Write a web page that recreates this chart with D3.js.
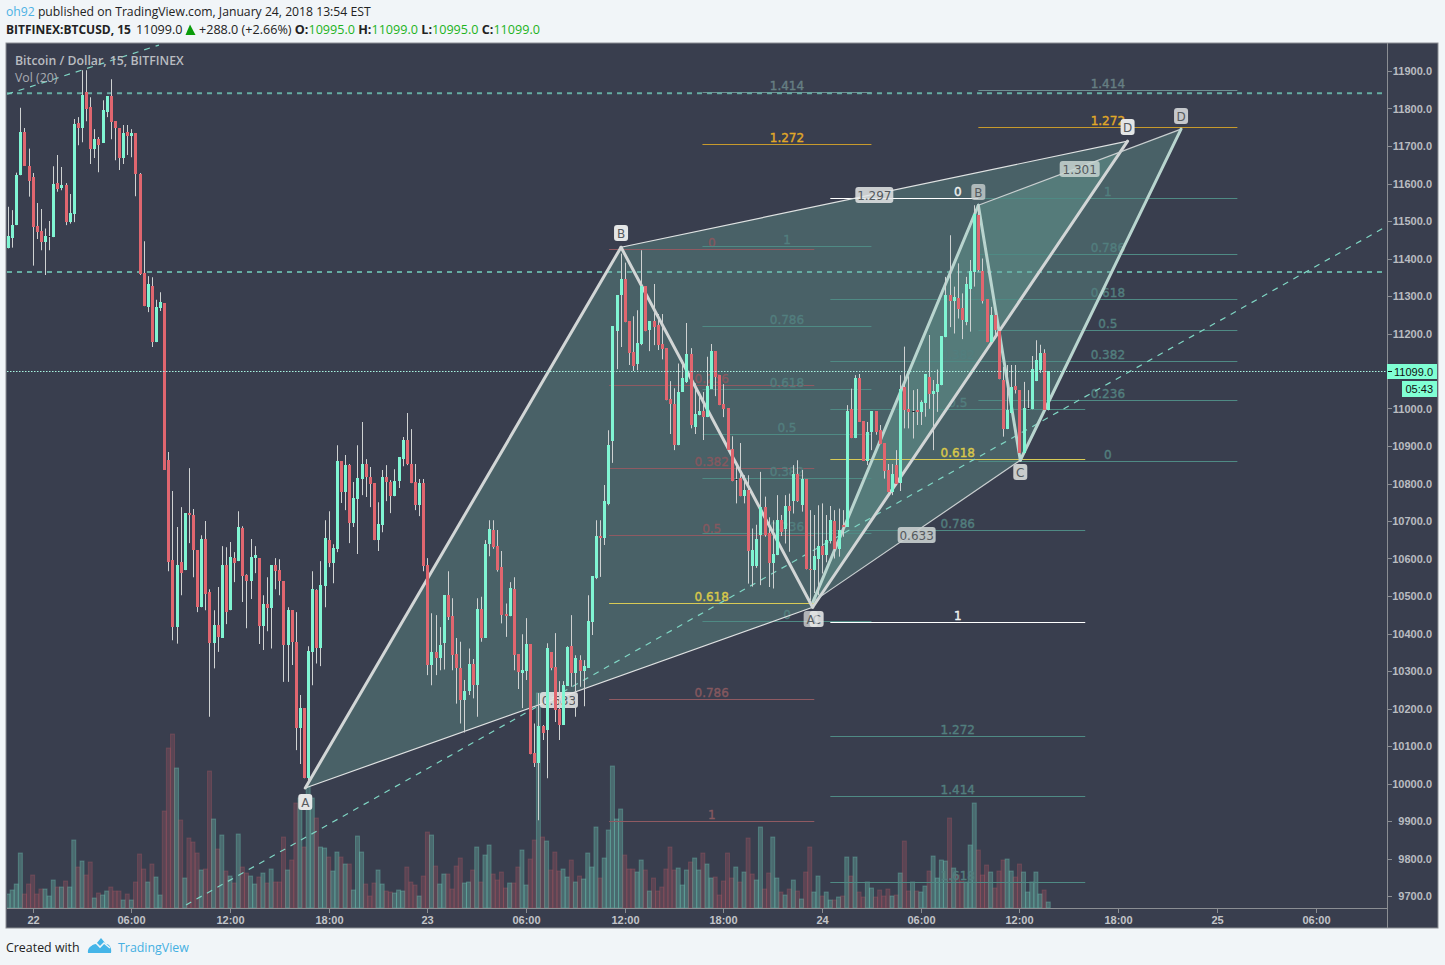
<!DOCTYPE html>
<html><head><meta charset="utf-8"><title>BTCUSD</title>
<script src="https://cdn.jsdelivr.net/npm/d3@7/dist/d3.min.js"></script>
<style>html,body{margin:0;padding:0;background:#f1f5f8;overflow:hidden}svg{display:block}</style>
</head><body><svg id="c" width="1445" height="965"></svg>
<script>
const opens=[11429,11454,11489,11622,11737,11646,11617,11486,11473,11444,
11459,11457,11601,11588,11596,11497,11518,11761,11748,11844,
11804,11692,11718,11708,11790,11833,11766,11748,11668,11737,
11726,11734,11625,11361,11270,11326,11177,11268,11281,10862,
10596,10417,10590,10569,10721,10716,10622,10470,10652,10510,
10375,10422,10388,10582,10462,10601,10593,10681,10556,10540,
10601,10601,10420,10478,10468,10582,10569,10540,10369,10462,
10378,10148,10201,10014,10350,10516,10361,10526,10649,10588,
10625,10860,10777,10849,10694,10758,10812,10852,10817,10801,
10649,10689,10817,10804,10766,10806,10865,10916,10852,10804,
10742,10801,10582,10316,10350,10334,10375,10502,10446,10345,
10307,10222,10246,10318,10262,10465,10388,10638,10676,10633,
10577,10452,10446,10518,10345,10294,10300,10372,10081,10054,
10153,10142,10350,10310,10198,10156,10260,10366,10294,10329,
10300,10308,10430,10548,10660,10654,10745,10913,11206,11302,
11345,11233,11150,11118,11172,11326,11209,11233,11222,11172,
11161,11025,11012,10902,11044,11070,11145,10950,10982,10993,
10977,11052,11153,11089,11012,11001,10892,10811,10814,10766,
10782,10580,10580,10662,10738,10667,10587,10609,10702,10678,
10741,10753,10825,10742,10812,10573,10569,10598,10633,10609,
10646,10700,10625,10689,10684,10998,10921,11081,10966,10860,
10937,10993,10942,10908,10836,10777,10849,10801,11057,10998,
10994,10997,10990,11014,11084,11038,11044,11062,11190,11302,
11286,11296,11268,11230,11318,11364,11516,11366,11292,11177,
11249,11206,11076,10945,10988,11060,11049,10881,11000,10998,
11073,11102,11148,10995];
const highs=[11538,11529,11629,11802,11748,11693,11628,11548,11532,11480,
11500,11646,11676,11644,11601,11572,11772,11777,11902,11902,
11830,11745,11724,11822,11833,11878,11766,11748,11756,11756,
11745,11734,11628,11446,11353,11350,11290,11310,11281,10884,
10780,10684,10737,10721,10841,10732,10622,10662,10700,10518,
10462,10524,10633,10630,10644,10617,10726,10686,10558,10652,
10633,10601,10502,10550,10582,10601,10598,10540,10470,10462,
10457,10236,10201,10366,10566,10518,10593,10702,10726,10638,
10902,10860,10876,10852,10804,10902,10964,10865,10844,10801,
10750,10836,10849,10809,10838,10870,10924,10988,10945,10852,
10812,10812,10601,10454,10449,10417,10502,10566,10494,10388,
10378,10276,10360,10332,10494,10498,10649,10702,10702,10676,
10620,10480,10537,10550,10345,10398,10441,10372,10160,10241,
10156,10374,10350,10401,10273,10273,10366,10449,10342,10342,
10329,10502,10553,10702,10702,10796,10942,11220,11302,11413,
11389,11233,11246,11262,11422,11326,11233,11332,11252,11252,
11161,11073,11054,11120,11129,11228,11161,11067,11044,11044,
11138,11172,11153,11089,11065,11001,10926,10846,10908,10822,
10822,10680,10690,10831,10765,10710,10702,10769,10716,10769,
10773,10849,10862,10836,10812,10729,10716,10742,10747,10716,
10740,10729,10733,10729,11009,11053,11089,11092,10966,10964,
10993,10993,10956,10908,10852,10852,10889,11089,11165,11086,
11049,11052,11022,11092,11196,11076,11104,11193,11351,11462,
11325,11387,11307,11351,11396,11542,11542,11400,11292,11271,
11249,11209,11111,11116,11116,11116,11049,11071,11049,11140,
11182,11170,11158,11099];
const lows=[11427,11429,11489,11622,11647,11565,11381,11452,11422,11356,
11422,11457,11578,11582,11489,11493,11497,11702,11710,11766,
11652,11668,11630,11708,11777,11718,11662,11636,11652,11676,
11670,11566,11356,11273,11257,11164,11177,11260,10836,10566,
10382,10373,10502,10569,10641,10550,10457,10470,10462,10178,
10307,10351,10388,10425,10462,10537,10593,10484,10414,10492,
10561,10372,10356,10406,10360,10518,10502,10271,10271,10316,
10089,10052,10014,10005,10262,10320,10313,10470,10577,10534,
10617,10748,10729,10641,10684,10612,10769,10764,10737,10649,
10620,10670,10753,10721,10766,10788,10846,10849,10801,10729,
10713,10566,10289,10262,10289,10302,10304,10436,10302,10213,
10160,10136,10236,10227,10178,10378,10388,10606,10626,10565,
10427,10391,10446,10302,10252,10201,10276,10078,10044,9902,
10116,10014,10302,10164,10116,10156,10260,10258,10178,10258,
10206,10308,10396,10545,10551,10636,10742,10855,11105,11164,
11230,11116,11100,11102,11169,11206,11153,11169,11156,11131,
11022,10932,10889,10902,11044,11068,10947,10932,10982,10916,
10977,11052,11033,11009,10977,10889,10806,10747,10766,10747,
10533,10525,10575,10529,10658,10524,10520,10609,10660,10640,
10618,10720,10751,10725,10571,10489,10508,10502,10560,10590,
10640,10600,10605,10658,10684,10921,10921,10964,10860,10849,
10889,10930,10905,10813,10777,10769,10798,10780,10947,10947,
10920,10956,10956,10978,10999,10889,10991,11062,11190,11217,
11200,11240,11185,11222,11205,11325,11365,11280,11177,11177,
11187,11078,10925,10945,10988,11040,10881,10881,10998,10998,
11073,11095,10996,10995];
const closes=[11460,11489,11622,11737,11647,11606,11484,11470,11444,11460,
11459,11598,11585,11596,11497,11521,11758,11748,11836,11798,
11692,11718,11702,11796,11833,11764,11748,11668,11734,11726,
11734,11625,11358,11273,11332,11177,11270,11284,10836,10590,
10417,10582,10561,10721,10716,10622,10470,10652,10505,10375,
10422,10390,10582,10457,10604,10588,10684,10553,10540,10604,
10609,10420,10478,10468,10582,10566,10540,10369,10462,10378,
10147,10201,10014,10353,10518,10361,10529,10654,10588,10628,
10860,10777,10849,10694,10761,10814,10852,10817,10798,10649,
10692,10817,10804,10766,10806,10870,10916,10852,10801,10742,
10801,10580,10316,10350,10334,10369,10502,10444,10342,10307,
10222,10246,10318,10262,10465,10388,10638,10678,10630,10569,
10449,10446,10521,10342,10297,10302,10372,10078,10054,10153,
10134,10361,10308,10196,10156,10262,10364,10294,10334,10300,
10313,10433,10553,10660,10656,10753,10902,11220,11302,11345,
11230,11148,11113,11174,11326,11206,11233,11217,11169,11158,
11022,11012,10902,11044,11081,11145,10956,10985,10993,10977,
11060,11153,11084,11009,10998,10889,10806,10811,10766,10782,
10620,10622,10652,10738,10662,10587,10613,10702,10671,10741,
10726,10825,10753,10812,10571,10569,10606,10633,10609,10649,
10702,10625,10676,10684,10993,10921,11081,10964,10860,10937,
10993,10937,10905,10833,10777,10825,10798,11052,10996,10990,
10994,10990,11017,11092,11038,11046,11065,11193,11302,11286,
11298,11265,11236,11332,11366,11518,11369,11286,11177,11249,
11209,11078,10945,10996,11057,11049,10881,11001,11000,11105,
11129,11148,10996,11099];
const volumes=[14,18,24,55,14,24,33,14,19,19,
12,28,21,21,27,21,68,41,47,33,
46,10,15,13,17,21,17,17,8,14,
8,26,54,39,26,44,31,13,97,160,
174,140,88,30,70,66,55,38,39,137,
89,59,73,37,32,25,74,41,35,32,
24,31,35,25,39,26,26,71,38,48,
105,110,61,121,110,90,61,60,51,37,
56,51,44,44,18,72,56,24,12,25,
38,24,17,16,15,18,17,41,26,23,
12,32,76,73,42,24,34,34,19,42,
50,25,26,38,61,26,53,63,34,28,
36,20,25,25,41,58,23,49,68,215,
71,67,38,56,37,39,31,48,26,32,
29,55,41,81,30,50,78,142,89,99,
53,39,39,36,48,38,17,30,17,21,
39,61,38,40,23,38,46,50,38,55,
44,30,31,13,27,55,30,41,26,36,
70,34,28,81,19,35,71,30,16,13,
19,28,17,9,36,61,16,32,12,16,
8,8,11,12,51,32,51,16,11,26,
20,11,18,12,19,12,13,35,67,17,
26,17,16,22,37,52,30,48,47,90,
40,33,27,26,63,105,58,33,43,36,
20,37,48,49,37,31,44,36,16,26,
36,14,18,6];
const volumeUp=[1,1,1,1,0,0,0,0,0,1,
1,1,0,1,0,1,1,0,1,0,
0,1,0,1,1,0,0,0,1,0,
1,0,0,0,1,0,1,1,0,0,
0,1,0,1,0,0,0,1,0,0,
1,0,1,0,1,0,1,0,0,1,
1,0,1,0,1,0,0,0,1,0,
0,1,0,1,1,0,1,1,0,1,
1,0,1,0,1,1,1,0,0,0,
1,1,0,0,1,1,1,0,0,0,
1,0,0,1,0,1,1,0,0,0,
0,1,1,0,1,0,1,1,0,0,
0,0,1,0,0,1,1,0,0,1,
0,1,0,0,0,1,1,0,1,0,
1,1,1,1,0,1,1,1,1,1,
0,0,0,1,1,0,1,0,0,0,
0,0,0,1,1,1,0,1,1,0,
1,1,0,0,0,0,0,1,0,1,
0,0,1,1,0,0,1,1,0,1,
0,1,0,1,0,0,1,1,0,1,
1,0,1,0,1,0,1,0,0,1,
1,0,0,0,0,1,0,1,0,0,
1,0,1,1,0,1,1,1,1,0,
1,0,0,1,1,1,0,0,0,1,
0,0,0,1,1,0,0,1,1,1,
1,1,0,1];
const priceTicks=d3.range(9700,11901,100);
const timeTickBars=[6,30,54,78,102,126,150,174,198,222,246,270,294,318];
const timeTickLabels=["22","06:00","12:00","18:00","23","06:00","12:00","18:00","24","06:00","12:00","18:00","25","06:00"];

const pattern1Bars=[72.3,149.1,195.7,272.3], pattern1Prices=[9988,11430,10470,11713];
const pattern1Ratios=["0.633","1.297"];
const pattern2Bars=[195.8,236.0,246.2,285.3], pattern2Prices=[10485,11542,10862,11745];
const pattern2Ratios=["0.633","1.301"];
const hLevels=[11841,11364];
const trendBars=[[43.3,335.8],[-0.2,36.7]], trendPrices=[[9676,11489],[11838,11969]];

const fibALevels=["0","0.236","0.382","0.5","0.618","0.786","1"];
const fibAPrices=[11425,11062,10841,10662,10481,10225,9900];
const fibASpan=[146.2,196.1];
const fibBLevels=["1.414","1.272","1","0.786","0.618","0.5","0.382","0.236","0"];
const fibBPrices=[11844,11705,11433,11220,11052,10932,10814,10668,10433];
const fibBSpan=[168.9,210];
const fibCLevels=["0","0.236","0.382","0.5","0.618","0.786","1","1.272","1.414","1.618"];
const fibCPrices=[11561,11292,11126,10998,10865,10676,10430,10126,9966,9737];
const fibCSpan=[200,262];
const fibDLevels=["1.414","1.272","1","0.786","0.618","0.5","0.382","0.236","0"];
const fibDPrices=[11850,11750,11561,11412,11292,11209,11126,11022,10860];
const fibDSpan=[236,299];

const n=closes.length;
const svg=d3.select("#c");
const x=d3.scaleLinear().domain([0,318]).range([8,1315.5]);
const y=d3.scaleLinear().domain([9700,11900]).range([896,71]);
const yv=d3.scaleLinear().domain([0,215]).range([908,693]);
const BG="#393e4e",GREEN="#80f5d3",RED="#e0666f",WICK="#cfd2d2";
const F="'Liberation Sans',Arial,sans-serif", H="'Open Sans',sans-serif", L="'DejaVu Sans',Verdana,sans-serif";

svg.append("rect").attr("x",6).attr("y",43).attr("width",1432).attr("height",885).attr("fill",BG).attr("stroke","#8b8e93").attr("stroke-width",1);
svg.append("defs").append("clipPath").attr("id","plot").append("rect").attr("x",7).attr("y",44).attr("width",1380.5).attr("height",864);
const plot=svg.append("g").attr("clip-path","url(#plot)");

// volume
const vb=plot.append("g");
volumes.forEach((v,i)=>{
  vb.append("rect").attr("x",x(i)-2).attr("y",yv(v)).attr("width",4).attr("height",908-yv(v))
    .attr("fill",volumeUp[i]?"rgb(120,222,198)":"rgb(224,102,111)").attr("fill-opacity",volumeUp[i]?.28:.2)
    .attr("stroke",volumeUp[i]?"rgb(120,222,198)":"rgb(224,102,111)").attr("stroke-opacity",volumeUp[i]?.3:.22).attr("stroke-width",1);
});

// harmonic fills
const FILL="rgb(125,205,180)";
const tri=(a,b,c)=>`M${a}L${b}L${c}Z`;
function patternFill(bars,prices){
  const p=bars.map((b,i)=>[x(b),y(prices[i])]);
  plot.append("path").attr("d",tri(p[0],p[1],p[2])).attr("fill",FILL).attr("fill-opacity",.25);
  plot.append("path").attr("d",tri(p[1],p[2],p[3])).attr("fill",FILL).attr("fill-opacity",.25);
}
patternFill(pattern1Bars,pattern1Prices);
patternFill(pattern2Bars,pattern2Prices);

// fib retracements
function styleFor(l,whiteLevels,setColor){
  if(l==="1.272"&&setColor!=="tealC")return{line:"#c79a2c",text:"#e0a828"};
  if(l==="0.618"&&setColor!=="teal"&&setColor!=="tealD")return{line:"#d8ca55",text:"#d9c84a"};
  if(whiteLevels.includes(l))return{line:"#ffffff",text:"#eef0f0"};
  if(l==="1.414"&&setColor!=="tealC")return{line:"#6f8f92",text:"#667f83"};
  if(setColor==="red")return{line:"#8f5a62",text:"#85585f"};
  return{line:"#4f8a84",text:"#527e7e"};
}
function fib(levels,prices,span,whiteLevels,setColor){
  const g=plot.append("g");
  levels.forEach((l,i)=>{
    const s=styleFor(l,whiteLevels,setColor), yy=Math.round(y(prices[i]))+.5;
    g.append("line").attr("x1",x(span[0])).attr("x2",x(span[1])).attr("y1",yy).attr("y2",yy).attr("stroke",s.line);
    g.append("text").attr("x",(x(span[0])+x(span[1]))/2).attr("y",yy-3).attr("text-anchor","middle")
      .attr("font-family",L).attr("font-size",12).attr("fill",s.text).attr("stroke",s.text).attr("stroke-width",.4).text(l);
  });
}
fib(fibALevels,fibAPrices,fibASpan,[],"red");
fib(fibBLevels,fibBPrices,fibBSpan,[],"teal");
fib(fibCLevels,fibCPrices,fibCSpan,["0","1"],"tealC");
fib(fibDLevels,fibDPrices,fibDSpan,[],"tealD");

// dashed levels and trend lines
hLevels.forEach(p=>plot.append("line").attr("x1",7).attr("x2",1388).attr("y1",y(p)).attr("y2",y(p))
  .attr("stroke","#66ada2").attr("stroke-width",2).attr("stroke-dasharray","5 5"));
trendBars.forEach((b,i)=>plot.append("line").attr("x1",x(b[0])).attr("x2",x(b[1]))
  .attr("y1",y(trendPrices[i][0])).attr("y2",y(trendPrices[i][1]))
  .attr("stroke","#7fd6c4").attr("stroke-width",1.2).attr("stroke-dasharray","6 6"));

// harmonic lines
function patternLines(bars,prices,thick,thin){
  const p=bars.map((b,i)=>[x(b),y(prices[i])]);
  [[0,2],[1,3]].forEach(([a,b])=>plot.append("line").attr("x1",p[a][0]).attr("y1",p[a][1]).attr("x2",p[b][0]).attr("y2",p[b][1]).attr("stroke",thin).attr("stroke-width",1.2));
  [[0,1],[1,2],[2,3]].forEach(([a,b])=>plot.append("line").attr("x1",p[a][0]).attr("y1",p[a][1]).attr("x2",p[b][0]).attr("y2",p[b][1]).attr("stroke",thick).attr("stroke-width",3).attr("stroke-linecap","round"));
}
patternLines(pattern1Bars,pattern1Prices,"#d2d6d6","#dfe2e2");
patternLines(pattern2Bars,pattern2Prices,"#b9d5cf","#c9cfd0");

function tag(cx,cy,txt,w,fill,op,tc){
  const h=16;
  plot.append("rect").attr("x",cx-w/2).attr("y",cy-h/2).attr("width",w).attr("height",h).attr("rx",3).attr("fill",fill).attr("fill-opacity",op);
  plot.append("text").attr("x",cx).attr("y",cy+4.5).attr("text-anchor","middle").attr("font-family",L).attr("font-size",12).attr("fill",tc).text(txt);
}
const P1=pattern1Bars.map((b,i)=>[x(b),y(pattern1Prices[i])]);
const P2=pattern2Bars.map((b,i)=>[x(b),y(pattern2Prices[i])]);
const LIGHT="#e4e6e6", DK="#555a5e";
tag(P1[0][0],802,"A",14,LIGHT,1,DK);
tag(P1[1][0],233,"B",14,LIGHT,1,DK);
tag(P1[2][0]+4,619,"C",14,LIGHT,.9,DK);
tag(P1[2][0]-2,619,"A",14,LIGHT,.7,DK);
tag(P1[3][0],127,"D",14,LIGHT,1,DK);
tag(P2[1][0],192,"B",14,"#c9d0d0",.8,DK);
tag(P2[2][0],472,"C",14,"#c9cccc",1,DK);
tag(P2[3][0],116,"D",14,"#c5c8cc",1,DK);
tag((P1[0][0]+P1[2][0])/2,700,pattern1Ratios[0],38,LIGHT,.9,DK);
tag((P1[1][0]+P1[3][0])/2,195,pattern1Ratios[1],38,LIGHT,.85,DK);
tag((P2[0][0]+P2[2][0])/2,535,pattern2Ratios[0],38,"#c9cfcf",.9,DK);
tag((P2[1][0]+P2[3][0])/2,169,pattern2Ratios[1],40,"#c9d6d2",.85,DK);

// candles
const cg=plot.append("g");
closes.forEach((c,i)=>{
  const xx=Math.round(x(i));
  cg.append("line").attr("x1",xx+.5).attr("x2",xx+.5).attr("y1",y(highs[i])).attr("y2",y(lows[i])).attr("stroke",WICK);
  const t=Math.round(y(Math.max(opens[i],c))),b=Math.round(y(Math.min(opens[i],c)));
  const col=c===opens[i]?"#2c303c":c>opens[i]?GREEN:RED;
  cg.append("rect").attr("x",xx-1).attr("y",t).attr("width",3).attr("height",Math.max(1,b-t)).attr("fill",col);
});

// current price
const pNow=closes[n-1];
svg.append("line").attr("x1",7).attr("x2",1388).attr("y1",Math.round(y(pNow))+.5).attr("y2",Math.round(y(pNow))+.5)
  .attr("stroke","#a9f5e1").attr("stroke-dasharray","1.5 1.5");

// axes
svg.append("line").attr("x1",1387.5).attr("x2",1387.5).attr("y1",43).attr("y2",928).attr("stroke","#8b8e93");
svg.append("line").attr("x1",7).attr("x2",1387).attr("y1",908.5).attr("y2",908.5).attr("stroke","#8b8e93");
const ax=svg.append("g");
priceTicks.forEach(p=>{
  ax.append("line").attr("x1",1388).attr("x2",1392).attr("y1",Math.round(y(p))+.5).attr("y2",Math.round(y(p))+.5).attr("stroke","#8b8e93");
  ax.append("text").attr("x",1432).attr("y",y(p)+4).attr("text-anchor","end").attr("font-family",F).attr("font-size",11).attr("font-weight","bold").attr("fill","#b9bcc1").text(p.toFixed(1));
});
timeTickBars.forEach((b,i)=>{
  const xx=Math.round(x(b))+.5;
  ax.append("line").attr("x1",xx).attr("x2",xx).attr("y1",909).attr("y2",913).attr("stroke","#8b8e93");
  ax.append("text").attr("x",xx).attr("y",924).attr("text-anchor","middle").attr("font-family",F).attr("font-size",11).attr("font-weight","bold").attr("fill","#c3c5c9").text(timeTickLabels[i]);
});
const AQ="#80ffd4";
ax.append("rect").attr("x",1387).attr("y",364).attr("width",50).attr("height",15).attr("fill",AQ);
ax.append("line").attr("x1",1388).attr("x2",1392).attr("y1",371.5).attr("y2",371.5).attr("stroke","#111");
ax.append("text").attr("x",1433).attr("y",376).attr("text-anchor","end").attr("font-family",F).attr("font-size",11).attr("fill","#111").text(pNow.toFixed(1));
ax.append("rect").attr("x",1402).attr("y",381).attr("width",35).attr("height",16).attr("fill",AQ);
ax.append("text").attr("x",1433).attr("y",393).attr("text-anchor","end").attr("font-family",F).attr("font-size",11).attr("fill","#111").text("05:43");

// pane titles
svg.append("text").attr("x",15).attr("y",65).attr("font-family",H).attr("font-size",12.3).attr("font-weight","600").attr("fill","#b9bcc1").text("Bitcoin / Dollar, 15, BITFINEX");
svg.append("text").attr("x",15).attr("y",82).attr("font-family",H).attr("font-size",12.3).attr("fill","#a9acb2").text("Vol (20)");

// header
const h1=svg.append("text").attr("x",6).attr("y",16).attr("font-family",H).attr("font-size",12.2).attr("fill","#222");
h1.append("tspan").attr("fill","#4db2e4").text("oh92");
h1.append("tspan").text(" published on TradingView.com, January 24, 2018 13:54 EST");
const UPG="#1db31d";
const h2=svg.append("text").attr("x",6).attr("y",34).attr("font-family",H).attr("font-size",12).attr("fill","#222");
h2.append("tspan").attr("font-weight","bold").text("BITFINEX:BTCUSD, 15");
h2.append("tspan").attr("x",136).attr("font-size",12.6).text(pNow.toFixed(1));
svg.append("path").attr("d","M185.5 35L190 24.5L195.5 35Z").attr("fill","#0a9c0a");
const h3=svg.append("text").attr("x",199).attr("y",34).attr("font-family",H).attr("font-size",12.6).attr("fill","#222");
h3.append("tspan").text("+288.0 (+2.66%) ");
[["O:",opens[n-1]],["H:",highs[n-1]],["L:",lows[n-1]],["C:",closes[n-1]]].forEach(([k,v])=>{
  h3.append("tspan").attr("font-weight","bold").text(k);
  h3.append("tspan").attr("fill",UPG).text(v.toFixed(1)+" ");
});

// footer
svg.append("text").attr("x",6).attr("y",952).attr("font-family",H).attr("font-size",12.4).attr("fill","#222").text("Created with");
svg.append("path").attr("d","M88 953C87 948 92 944 96 944L101 938L106 944C110 944 112 949 111 953Z").attr("fill","#45b5e8");
svg.append("path").attr("d","M90 946L95 942L100 947L104 943L110 948").attr("fill","none").attr("stroke","#f1f5f8").attr("stroke-width",1.6);
svg.append("text").attr("x",118).attr("y",952).attr("font-family",H).attr("font-size",12.4).attr("fill","#45b0e2").text("TradingView");
</script></body></html>
